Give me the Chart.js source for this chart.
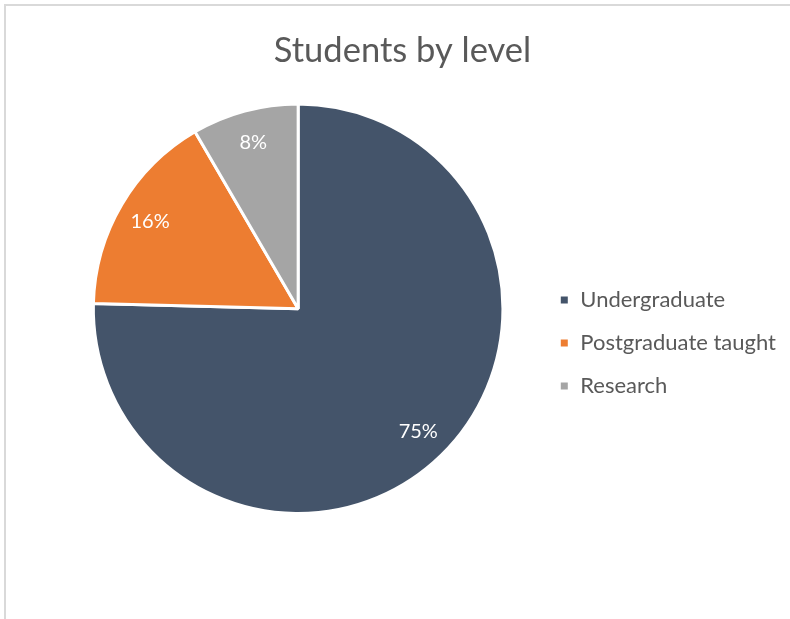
<!DOCTYPE html>
<html>
<head>
<meta charset="utf-8">
<script src="https://cdn.jsdelivr.net/npm/chart.js@4/dist/chart.umd.min.js"></script>
<style>
  html, body { margin: 0; padding: 0; background: #fff; }
  canvas { display: block; }
</style>
</head>
<body>
<canvas id="chart" width="790" height="619"></canvas>
<script>
const levels = ['Undergraduate', 'Postgraduate taught', 'Research'];
const shares = [75.4, 16.2, 8.4];
const sliceColors = ['#44546A', '#ED7D31', '#A5A5A5'];

const font = 'Lato';

// Excel-style percent labels inside each slice
const sliceLabels = {
  id: 'sliceLabels',
  afterDatasetsDraw(chart) {
    const ctx = chart.ctx;
    const meta = chart.getDatasetMeta(0);
    const total = shares.reduce((a, b) => a + b, 0);
    ctx.save();
    ctx.fillStyle = '#fff';
    ctx.font = '20px ' + font;
    ctx.textAlign = 'center';
    ctx.textBaseline = 'middle';
    meta.data.forEach((arc, i) => {
      const mid = (arc.startAngle + arc.endAngle) / 2;
      const r = arc.outerRadius * 0.84;
      const x = arc.x + Math.cos(mid) * r;
      const y = arc.y + Math.sin(mid) * r;
      ctx.fillText(Math.round(shares[i] / total * 100) + '%', x, y);
    });
    ctx.restore();
  }
};

// thin frame along top and left edge, like the original export
const frame = {
  id: 'frame',
  beforeDraw(chart) {
    const ctx = chart.ctx;
    ctx.save();
    ctx.strokeStyle = '#D9D9D9';
    ctx.lineWidth = 2;
    ctx.beginPath();
    ctx.moveTo(5, chart.height);
    ctx.lineTo(5, 5);
    ctx.lineTo(chart.width, 5);
    ctx.stroke();
    ctx.restore();
  }
};

function renderChart() {
  const chartCanvas = document.getElementById('chart');

  new Chart(chartCanvas, {
    type: 'pie',
    plugins: [frame, sliceLabels],
    data: {
      labels: levels,
      datasets: [{
        data: shares,
        backgroundColor: sliceColors,
        borderColor: '#fff',
        borderWidth: 3,
        hoverOffset: 0,
      }]
    },
    options: {
      responsive: false,
      animation: false,
      layout: {
        padding: {
          top: 0,
          left: 19,
          right: 4,
          bottom: 104,
        }
      },
      plugins: {
        title: {
          display: true,
          text: 'Students by level',
          color: '#595959',
          font: { family: font, size: 34.5, weight: 'normal' },
          padding: { top: 30, bottom: 31 },
        },
        // empty spacer on the left so the pie sits where Excel put it
        subtitle: {
          display: true,
          position: 'left',
          text: ' ',
          font: { size: 10 },
          padding: { top: 13.5, bottom: 13.5 },
        },
        legend: {
          position: 'right',
          maxWidth: 260,
          title: {
            display: true,
            text: ' ',
            font: { size: 10 },
            padding: { top: 159, bottom: 0 },
          },
          labels: {
            boxWidth: 10,
            boxHeight: 10,
            padding: 21,
            color: '#595959',
            font: { family: font, size: 22 },
          }
        },
        tooltip: {
          enabled: false,
        },
      },
    },
  });
}

document.addEventListener('DOMContentLoaded', renderChart);
</script>
</body>
</html>
